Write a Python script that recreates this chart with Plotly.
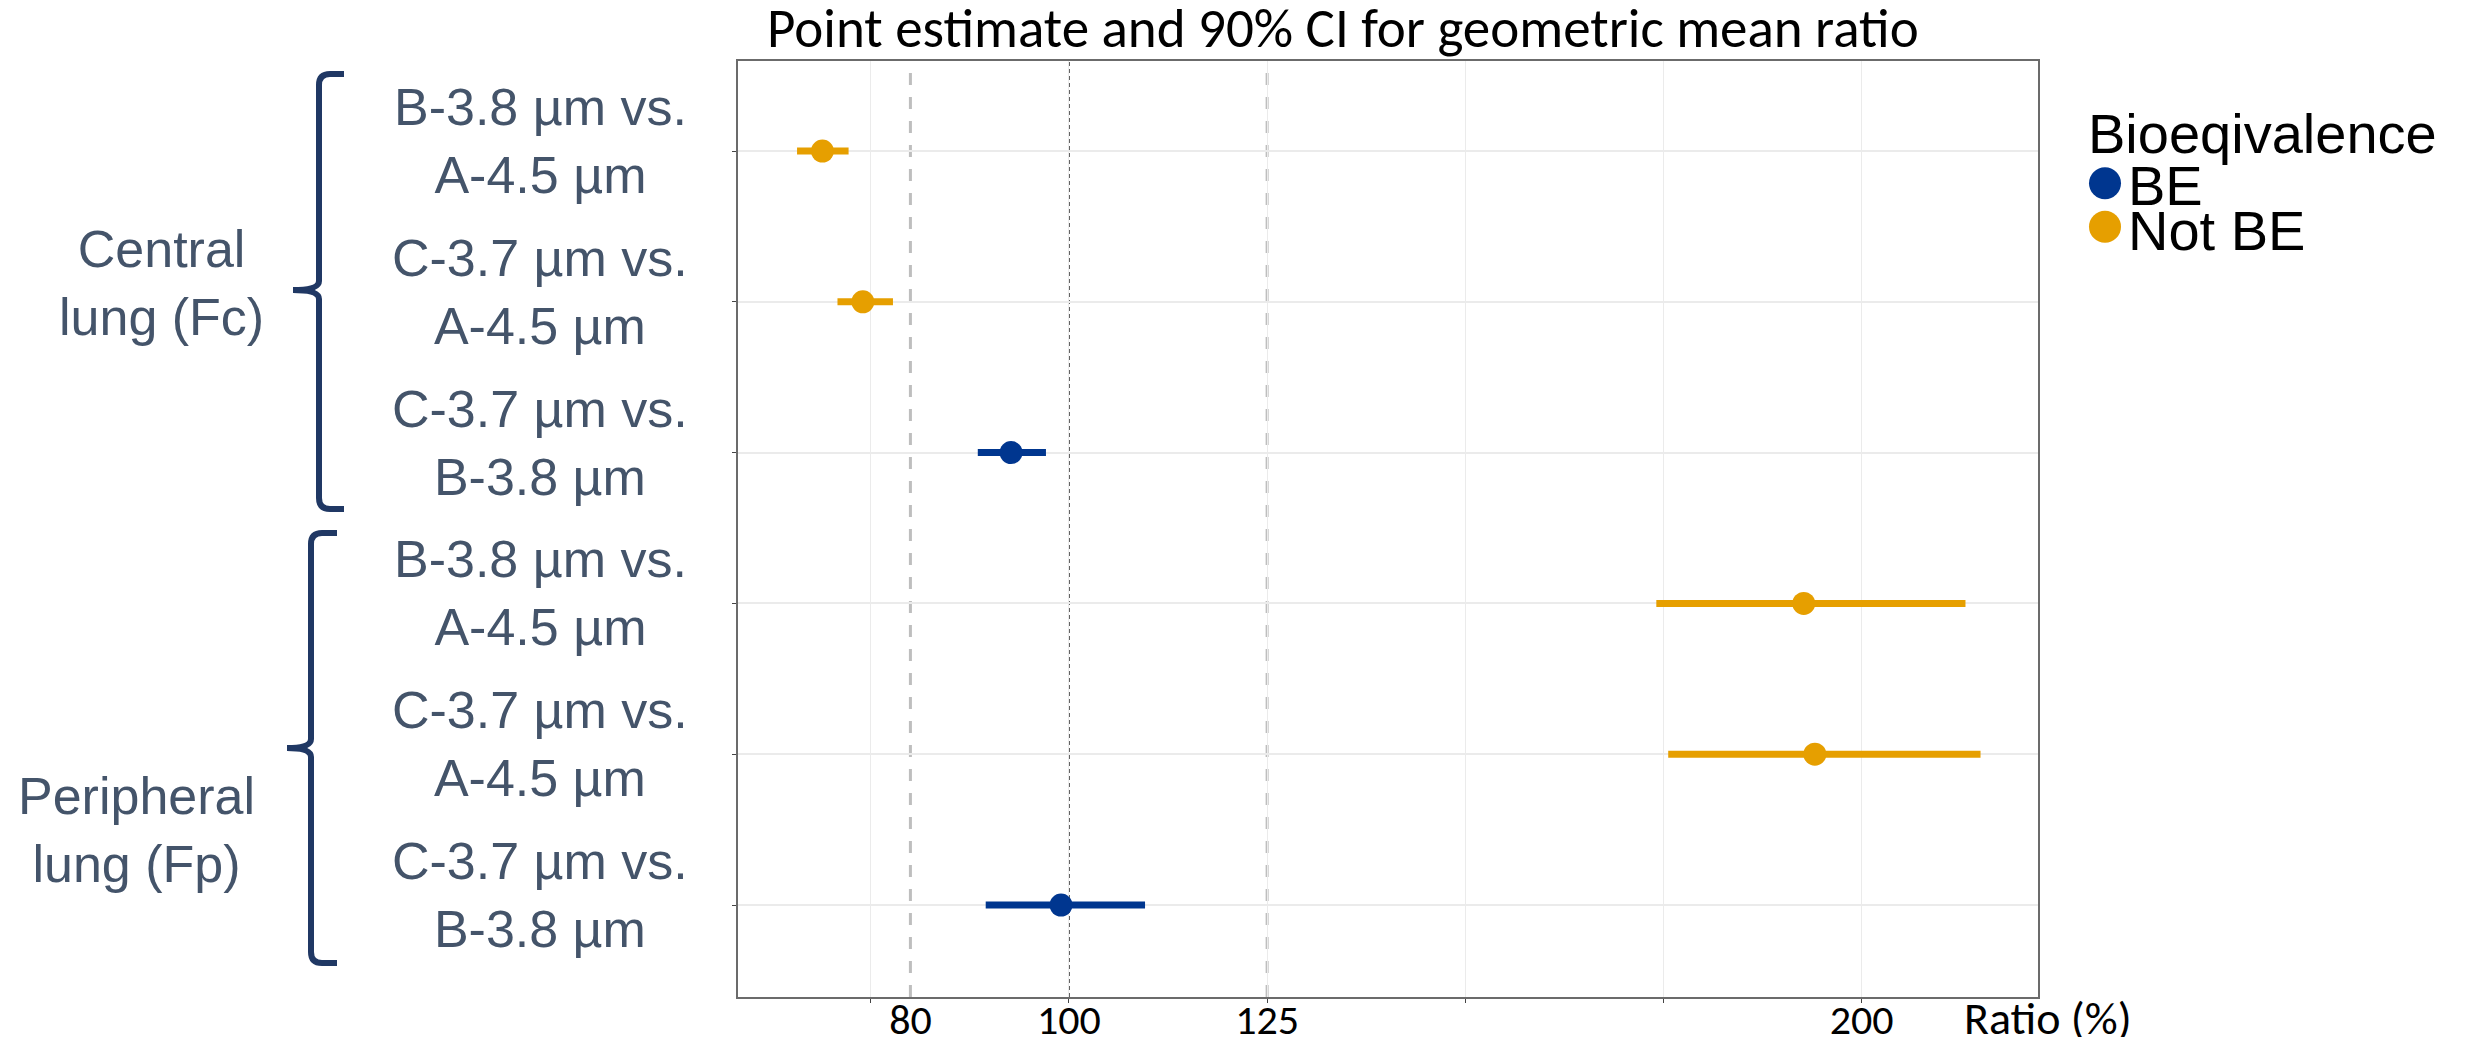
import plotly.graph_objects as go

# ---------------- data ----------------
row_ids = ["Fc: B vs A", "Fc: C vs A", "Fc: C vs B",
           "Fp: B vs A", "Fp: C vs A", "Fp: C vs B"]
row_labels = ["B-3.8 µm vs.<br>A-4.5 µm", "C-3.7 µm vs.<br>A-4.5 µm", "C-3.7 µm vs.<br>B-3.8 µm",
              "B-3.8 µm vs.<br>A-4.5 µm", "C-3.7 µm vs.<br>A-4.5 µm", "C-3.7 µm vs.<br>B-3.8 µm"]
region_labels = ["Central<br>lung (Fc)", "Peripheral<br>lung (Fp)"]
point_est = [68.9, 74.0, 92.7, 192.7, 194.1, 99.0]
ci_lower = [65.7, 70.8, 88.5, 174.1, 175.6, 89.5]
ci_upper = [72.2, 77.8, 97.1, 213.1, 215.0, 109.6]
status = ["Not BE", "Not BE", "BE", "Not BE", "Not BE", "BE"]
status_levels = ["BE", "Not BE"]
be_limits = [80, 125]
null_value = [100]
tick_vals = [80, 100, 125, 200]
tick_text = ["80", "100", "125", "200"]
grid_vals = [75, 100, 125, 150, 175, 200]
x_range = [58.25, 222.25]

# ---------------- style ----------------
PAGE_W, PAGE_H, BODY = 2473, 1045, 8          # browser body margin offsets the figure
W, H = PAGE_W - 2 * BODY, PAGE_H - 2 * BODY
PL, PR, PT, PB = 738, 2038, 61, 997           # plot area in page pixels
L, R, T, B = PL - BODY, PR - BODY, PT - BODY, PB - BODY
colors = {"BE": "#00368F", "Not BE": "#E69F00"}
label_color = "#44546A"
brace_color = "#203864"
calibri = "Carlito, Lato, sans-serif"
arial = "Liberation Sans, Arial, sans-serif"


def px(x):
    return (x - PL) / (PR - PL)


def py(y):
    return (PB - y) / (PB - PT)


fig = go.Figure()
for lev in status_levels:
    idx = [i for i, s in enumerate(status) if s == lev]
    fig.add_trace(go.Scatter(
        x=[point_est[i] for i in idx],
        y=[row_ids[i] for i in idx],
        mode="markers",
        name=lev,
        marker=dict(color=colors[lev], size=23, line=dict(width=0)),
        error_x=dict(type="data", symmetric=False,
                     array=[ci_upper[i] - point_est[i] for i in idx],
                     arrayminus=[point_est[i] - ci_lower[i] for i in idx],
                     color=colors[lev], thickness=7, width=0),
        showlegend=False,
        cliponaxis=False,
    ))

shapes = []
for v in be_limits:
    shapes.append(dict(type="line", xref="x", yref="paper", x0=v, x1=v, y0=0, y1=1,
                       line=dict(color="#BEBEBE", width=3, dash="12px,12px"), layer="below"))
for v in null_value:
    shapes.append(dict(type="line", xref="x", yref="paper", x0=v, x1=v, y0=0, y1=1,
                       line=dict(color="#222222", width=1.5, dash="4px,3px"), layer="below"))


def brace(xs, xt, xa, ytop, ytip, ybot):
    pts = [
        f"M {px(xa)},{py(ytop)}",
        f"L {px(xs + 11)},{py(ytop)}",
        f"Q {px(xs)},{py(ytop)} {px(xs)},{py(ytop + 11)}",
        f"L {px(xs)},{py(ytip - 9)}",
        f"Q {px(xs)},{py(ytip)} {px(xt)},{py(ytip)}",
        f"Q {px(xs)},{py(ytip)} {px(xs)},{py(ytip + 9)}",
        f"L {px(xs)},{py(ybot - 11)}",
        f"Q {px(xs)},{py(ybot)} {px(xs + 11)},{py(ybot)}",
        f"L {px(xa)},{py(ybot)}",
    ]
    return dict(type="path", xref="paper", yref="paper", path=" ".join(pts),
                line=dict(color=brace_color, width=6))


shapes.append(brace(319, 293, 344, 74, 290, 509))
shapes.append(brace(311, 287, 337, 533, 748, 963))

# legend markers
for yc, lev in zip([183.3, 226.7], status_levels):
    shapes.append(dict(type="circle", xref="paper", yref="paper",
                       x0=px(2089), x1=px(2121), y0=py(yc + 16), y1=py(yc - 16),
                       fillcolor=colors[lev], line=dict(width=0)))

annotations = []
for rid, lab in zip(row_ids, row_labels):
    annotations.append(dict(xref="paper", yref="y", x=px(540), y=rid, yshift=10,
                            text=lab, showarrow=False, align="center",
                            xanchor="center", yanchor="middle",
                            font=dict(family=arial, size=52, color=label_color)))
for (xc, yc), lab in zip([(161, 282.5), (136.5, 830)], region_labels):
    annotations.append(dict(xref="paper", yref="paper", x=px(xc), y=py(yc),
                            text=lab, showarrow=False, align="center",
                            xanchor="center", yanchor="middle",
                            font=dict(family=arial, size=52, color=label_color)))
# title
annotations.append(dict(xref="paper", yref="paper", x=px(1343), y=py(28.7),
                        text="Point estimate and 90% CI for geometric mean ratio",
                        showarrow=False, xanchor="center", yanchor="middle",
                        font=dict(family=calibri, size=55, color="black")))
# x-axis title
annotations.append(dict(xref="paper", yref="paper", x=px(2048), y=py(1018),
                        text="Ratio (%)", showarrow=False, xanchor="center", yanchor="middle",
                        font=dict(family=calibri, size=46, color="black")))
# legend text
annotations.append(dict(xref="paper", yref="paper", x=px(2086), y=py(134),
                        text="Bioeqivalence", showarrow=False, xanchor="left", yanchor="middle",
                        font=dict(family=arial, size=56, color="black")))
for yc, lev in zip([186, 230], status_levels):
    annotations.append(dict(xref="paper", yref="paper", x=px(2126), y=py(yc),
                            text=lev, showarrow=False, xanchor="left", yanchor="middle",
                            font=dict(family=arial, size=56, color="black")))

fig.update_layout(
    width=W, height=H,
    margin=dict(l=L, r=W - R, t=T, b=H - B, pad=0, autoexpand=False),
    paper_bgcolor="white", plot_bgcolor="white",
    shapes=shapes, annotations=annotations,
    showlegend=False,
    xaxis=dict(range=x_range, tickvals=tick_vals, ticktext=tick_text,
               automargin=False,
               showgrid=False, zeroline=False, ticks="",
               tickfont=dict(family=calibri, size=42, color="black"),
               ticklabelstandoff=-15,
               minor=dict(tickvals=grid_vals, showgrid=True, gridcolor="#EBEBEB", gridwidth=1.2,
                          ticks="outside", ticklen=4, tickcolor="#444"),
               showline=True, mirror=True, linecolor="#6B6B6B", linewidth=1.5),
    yaxis=dict(type="category", categoryorder="array", categoryarray=row_ids,
               automargin=False,
               range=[5.61, -0.597], showticklabels=False,
               showgrid=True, gridcolor="#EBEBEB", gridwidth=1.6,
               ticks="outside", ticklen=4, tickcolor="#444", zeroline=False,
               showline=True, mirror=True, linecolor="#6B6B6B", linewidth=1.5),
)

fig.write_html("out.html")
